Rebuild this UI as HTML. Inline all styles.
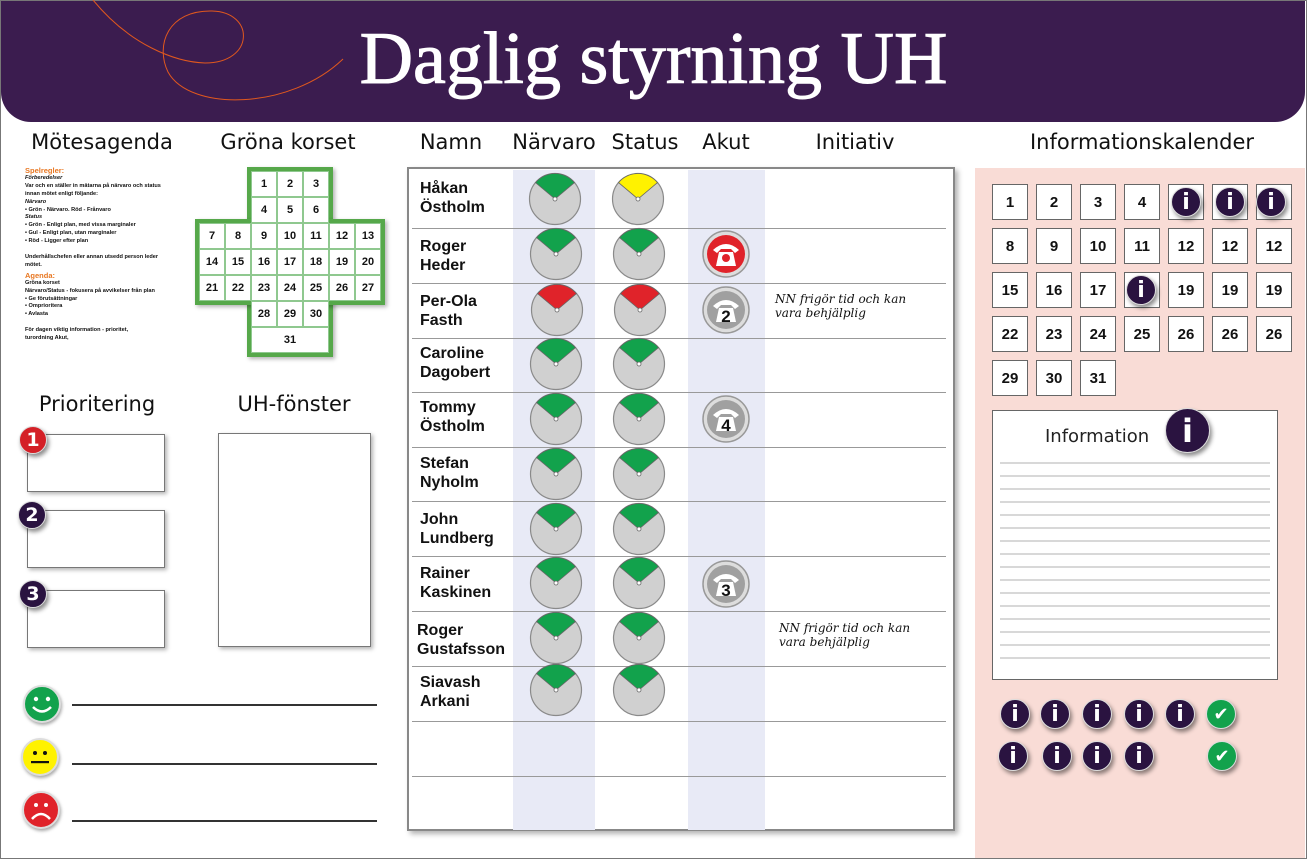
<!DOCTYPE html>
<html><head><meta charset="utf-8"><style>
*{margin:0;padding:0;box-sizing:border-box}
body{width:1307px;height:859px;position:relative;background:#fff;font-family:"Liberation Sans",sans-serif;overflow:hidden}
.a{position:absolute}
.h{position:absolute;font-family:"DejaVu Sans",sans-serif;font-size:21px;color:#111;transform:translateX(-50%);white-space:nowrap;top:130px}
.cc{position:absolute;width:26px;height:26px;background:#fff;border:1px solid #8fc88f;font-weight:bold;font-size:11px;display:flex;align-items:center;justify-content:center;color:#111}
.cal{position:absolute;width:36px;height:36px;background:#fff;border:1.5px solid #666;font-weight:bold;font-size:15px;display:flex;align-items:center;justify-content:center;color:#111}
.info{position:absolute;border-radius:50%;background:#2a1340;border:1.5px solid #ddd;box-shadow:2px 3px 4px rgba(0,0,0,.45);color:#fff;font-weight:bold;display:flex;align-items:center;justify-content:center;font-family:"DejaVu Sans",sans-serif}
.nm{position:absolute;left:420px;font-weight:bold;font-size:16px;line-height:19px;color:#111}
.rl{position:absolute;left:412px;width:534px;height:1px;background:#999}
.ag{position:absolute;left:25px;top:167px;font-size:5.6px;line-height:7.9px;font-weight:bold;color:#111;width:165px}
.ag .o{color:#e87722;font-size:7.5px}
.pb{position:absolute;background:#fff;border:1.5px solid #777;box-shadow:2px 2px 4px rgba(0,0,0,.3)}
.sm{position:absolute;width:38px;height:38px;border-radius:50%;border:2px solid #ddd;box-shadow:1px 2px 3px rgba(0,0,0,.35)}
.ln{position:absolute;left:72px;width:305px;height:1.5px;background:#333}
.cur{position:absolute;font-family:"DejaVu Serif",serif;font-style:italic;font-size:12px;line-height:14px;color:#111}
</style></head><body>
<div class="a" style="left:0;top:0;width:1307px;height:859px;border:1.5px solid #777"></div>
<div class="a" style="left:1px;top:1px;width:1304px;height:121px;background:#3b1c4f;border-radius:0 0 30px 30px"></div>
<svg class="a" style="left:0;top:0" width="400" height="125"><path d="M93,0 C130,45 175,62 205,63 C255,63 255,12 212,11 C168,10 155,45 168,72 C190,112 290,110 343,59" fill="none" stroke="#e0581e" stroke-width="1"/></svg>
<div class="a" style="left:0;width:1307px;top:14px;text-align:center;color:#fff;font-family:'Liberation Serif',serif;font-size:74px;line-height:90px;-webkit-text-stroke:1px #fff">Daglig styrning UH</div>

<div class="h" style="left:102px">Mötesagenda</div>
<div class="h" style="left:288px">Gröna korset</div>
<div class="h" style="left:451px">Namn</div>
<div class="h" style="left:554px">Närvaro</div>
<div class="h" style="left:645px">Status</div>
<div class="h" style="left:726px">Akut</div>
<div class="h" style="left:855px">Initiativ</div>
<div class="h" style="left:1142px">Informationskalender</div>

<div class="ag"><div class="o">Spelregler:</div><i>Förberedelser</i><br>Var och en ställer in mätarna på närvaro och status<br>innan mötet enligt följande:<br><i>Närvaro</i><br>• Grön - Närvaro. Röd - Frånvaro<br><i>Status</i><br>• Grön - Enligt plan, med vissa marginaler<br>• Gul - Enligt plan, utan marginaler<br>• Röd - Ligger efter plan<br><br>Underhållschefen eller annan utsedd person leder<br>mötet.<br><div class="o" style="margin-top:2px">Agenda:</div>Gröna korset<br>Närvaro/Status - fokusera på avvikelser från plan<br>• Ge förutsättningar<br>• Omprioritera<br>• Avlasta<br><br>För dagen viktig information - prioritet,<br>turordning Akut,</div>

<div class="a" style="left:247px;top:167px;width:86px;height:190px;background:#56a84a;box-shadow:2px 2px 4px rgba(0,0,0,.3)"></div>
<div class="a" style="left:195px;top:219px;width:190px;height:86px;background:#56a84a;box-shadow:2px 2px 4px rgba(0,0,0,.3)"></div>
<div class="cc" style="left:251px;top:171px">1</div><div class="cc" style="left:277px;top:171px">2</div><div class="cc" style="left:303px;top:171px">3</div>
<div class="cc" style="left:251px;top:197px">4</div><div class="cc" style="left:277px;top:197px">5</div><div class="cc" style="left:303px;top:197px">6</div>
<div class="cc" style="left:199px;top:223px">7</div><div class="cc" style="left:225px;top:223px">8</div><div class="cc" style="left:251px;top:223px">9</div><div class="cc" style="left:277px;top:223px">10</div><div class="cc" style="left:303px;top:223px">11</div><div class="cc" style="left:329px;top:223px">12</div><div class="cc" style="left:355px;top:223px">13</div>
<div class="cc" style="left:199px;top:249px">14</div><div class="cc" style="left:225px;top:249px">15</div><div class="cc" style="left:251px;top:249px">16</div><div class="cc" style="left:277px;top:249px">17</div><div class="cc" style="left:303px;top:249px">18</div><div class="cc" style="left:329px;top:249px">19</div><div class="cc" style="left:355px;top:249px">20</div>
<div class="cc" style="left:199px;top:275px">21</div><div class="cc" style="left:225px;top:275px">22</div><div class="cc" style="left:251px;top:275px">23</div><div class="cc" style="left:277px;top:275px">24</div><div class="cc" style="left:303px;top:275px">25</div><div class="cc" style="left:329px;top:275px">26</div><div class="cc" style="left:355px;top:275px">27</div>
<div class="cc" style="left:251px;top:301px">28</div><div class="cc" style="left:277px;top:301px">29</div><div class="cc" style="left:303px;top:301px">30</div>
<div class="cc" style="left:251px;top:327px;width:78px">31</div>

<div class="h" style="left:97px;top:392px">Prioritering</div>
<div class="h" style="left:294px;top:392px">UH-fönster</div>
<div class="pb" style="left:27px;top:434px;width:138px;height:58px"></div>
<div class="pb" style="left:27px;top:510px;width:138px;height:58px"></div>
<div class="pb" style="left:27px;top:590px;width:138px;height:58px"></div>
<div class="pb" style="left:218px;top:433px;width:153px;height:214px"></div>
<div class="info" style="left:19px;top:426px;width:28px;height:28px;background:#d42027;font-size:19px">1</div>
<div class="info" style="left:18px;top:501px;width:28px;height:28px;font-size:19px">2</div>
<div class="info" style="left:19px;top:580px;width:28px;height:28px;font-size:19px">3</div>

<div class="sm" style="left:23px;top:685px;background:#12a24c"></div>
<svg class="a" style="left:23px;top:685px" width="38" height="38"><circle cx="13" cy="14" r="2.2" fill="#fff"/><circle cx="25" cy="14" r="2.2" fill="#fff"/><path d="M10,22 Q19,31 28,22" stroke="#fff" stroke-width="2.5" fill="none"/></svg>
<div class="sm" style="left:21px;top:738px;background:#fff200"></div>
<svg class="a" style="left:21px;top:738px" width="38" height="38"><circle cx="14" cy="15" r="2" fill="#111"/><circle cx="24" cy="15" r="2" fill="#111"/><rect x="10" y="23" width="18" height="2.2" fill="#111"/></svg>
<div class="sm" style="left:22px;top:791px;background:#e0232a"></div>
<svg class="a" style="left:22px;top:791px" width="38" height="38"><circle cx="14" cy="14" r="2" fill="#fff"/><circle cx="24" cy="14" r="2" fill="#fff"/><path d="M10,28 Q19,18 28,28" stroke="#fff" stroke-width="2.5" fill="none"/></svg>
<div class="ln" style="top:704px"></div><div class="ln" style="top:763px"></div><div class="ln" style="top:820px"></div>

<div class="a" style="left:407px;top:167px;width:548px;height:664px;background:#fff;border:2px solid #888;box-shadow:3px 3px 5px rgba(0,0,0,.3)"></div>
<div class="a" style="left:513px;top:170px;width:82px;height:660px;background:#e8eaf6"></div>
<div class="a" style="left:688px;top:170px;width:77px;height:660px;background:#e8eaf6"></div>
<div class="rl" style="top:228px"></div><div class="rl" style="top:283px"></div><div class="rl" style="top:338px"></div><div class="rl" style="top:392px"></div><div class="rl" style="top:447px"></div><div class="rl" style="top:501px"></div><div class="rl" style="top:556px"></div><div class="rl" style="top:611px"></div><div class="rl" style="top:666px"></div><div class="rl" style="top:721px"></div><div class="rl" style="top:776px"></div>

<div class="nm" style="top:179px">Håkan<br>Östholm</div>
<div class="nm" style="top:237px">Roger<br>Heder</div>
<div class="nm" style="top:292px">Per-Ola<br>Fasth</div>
<div class="nm" style="top:344px">Caroline<br>Dagobert</div>
<div class="nm" style="top:398px">Tommy<br>Östholm</div>
<div class="nm" style="top:454px">Stefan<br>Nyholm</div>
<div class="nm" style="top:510px">John<br>Lundberg</div>
<div class="nm" style="top:564px">Rainer<br>Kaskinen</div>
<div class="nm" style="top:621px;left:417px">Roger<br>Gustafsson</div>
<div class="nm" style="top:673px">Siavash<br>Arkani</div>

<svg class="a" style="left:0;top:0" width="1307" height="859">
<defs><g id="gb"><circle r="25.5" fill="#d0d0d0" stroke="#8a8a8a" stroke-width="1.2"/></g></defs>
<g stroke="#666" stroke-width="0.8">
<g transform="translate(555,199)"><use href="#gb"/><path d="M0,0 L-19.5,-16.4 A25.5,25.5 0 0 1 19.5,-16.4 Z" fill="#12a24c"/><circle r="2" fill="#fff"/></g>
<g transform="translate(638,199)"><use href="#gb"/><path d="M0,0 L-19.5,-16.4 A25.5,25.5 0 0 1 19.5,-16.4 Z" fill="#fff200"/><circle r="2" fill="#fff"/></g>
<g transform="translate(556,254)"><use href="#gb"/><path d="M0,0 L-19.5,-16.4 A25.5,25.5 0 0 1 19.5,-16.4 Z" fill="#12a24c"/><circle r="2" fill="#fff"/></g>
<g transform="translate(639,254)"><use href="#gb"/><path d="M0,0 L-19.5,-16.4 A25.5,25.5 0 0 1 19.5,-16.4 Z" fill="#12a24c"/><circle r="2" fill="#fff"/></g>
<g transform="translate(557,310)"><use href="#gb"/><path d="M0,0 L-19.5,-16.4 A25.5,25.5 0 0 1 19.5,-16.4 Z" fill="#e0232a"/><circle r="2" fill="#fff"/></g>
<g transform="translate(640,310)"><use href="#gb"/><path d="M0,0 L-19.5,-16.4 A25.5,25.5 0 0 1 19.5,-16.4 Z" fill="#e0232a"/><circle r="2" fill="#fff"/></g>
<g transform="translate(556,364)"><use href="#gb"/><path d="M0,0 L-19.5,-16.4 A25.5,25.5 0 0 1 19.5,-16.4 Z" fill="#12a24c"/><circle r="2" fill="#fff"/></g>
<g transform="translate(639,364)"><use href="#gb"/><path d="M0,0 L-19.5,-16.4 A25.5,25.5 0 0 1 19.5,-16.4 Z" fill="#12a24c"/><circle r="2" fill="#fff"/></g>
<g transform="translate(556,419)"><use href="#gb"/><path d="M0,0 L-19.5,-16.4 A25.5,25.5 0 0 1 19.5,-16.4 Z" fill="#12a24c"/><circle r="2" fill="#fff"/></g>
<g transform="translate(639,419)"><use href="#gb"/><path d="M0,0 L-19.5,-16.4 A25.5,25.5 0 0 1 19.5,-16.4 Z" fill="#12a24c"/><circle r="2" fill="#fff"/></g>
<g transform="translate(556,474)"><use href="#gb"/><path d="M0,0 L-19.5,-16.4 A25.5,25.5 0 0 1 19.5,-16.4 Z" fill="#12a24c"/><circle r="2" fill="#fff"/></g>
<g transform="translate(639,474)"><use href="#gb"/><path d="M0,0 L-19.5,-16.4 A25.5,25.5 0 0 1 19.5,-16.4 Z" fill="#12a24c"/><circle r="2" fill="#fff"/></g>
<g transform="translate(556,529)"><use href="#gb"/><path d="M0,0 L-19.5,-16.4 A25.5,25.5 0 0 1 19.5,-16.4 Z" fill="#12a24c"/><circle r="2" fill="#fff"/></g>
<g transform="translate(639,529)"><use href="#gb"/><path d="M0,0 L-19.5,-16.4 A25.5,25.5 0 0 1 19.5,-16.4 Z" fill="#12a24c"/><circle r="2" fill="#fff"/></g>
<g transform="translate(556,583)"><use href="#gb"/><path d="M0,0 L-19.5,-16.4 A25.5,25.5 0 0 1 19.5,-16.4 Z" fill="#12a24c"/><circle r="2" fill="#fff"/></g>
<g transform="translate(639,583)"><use href="#gb"/><path d="M0,0 L-19.5,-16.4 A25.5,25.5 0 0 1 19.5,-16.4 Z" fill="#12a24c"/><circle r="2" fill="#fff"/></g>
<g transform="translate(556,638)"><use href="#gb"/><path d="M0,0 L-19.5,-16.4 A25.5,25.5 0 0 1 19.5,-16.4 Z" fill="#12a24c"/><circle r="2" fill="#fff"/></g>
<g transform="translate(639,638)"><use href="#gb"/><path d="M0,0 L-19.5,-16.4 A25.5,25.5 0 0 1 19.5,-16.4 Z" fill="#12a24c"/><circle r="2" fill="#fff"/></g>
<g transform="translate(556,690)"><use href="#gb"/><path d="M0,0 L-19.5,-16.4 A25.5,25.5 0 0 1 19.5,-16.4 Z" fill="#12a24c"/><circle r="2" fill="#fff"/></g>
<g transform="translate(639,690)"><use href="#gb"/><path d="M0,0 L-19.5,-16.4 A25.5,25.5 0 0 1 19.5,-16.4 Z" fill="#12a24c"/><circle r="2" fill="#fff"/></g>
</g>
<g transform="translate(726,254)"><circle r="23" fill="#ddd" stroke="#999" stroke-width="1.5"/><circle r="19" fill="#e0232a"/><path d="M-13,-4 Q0,-16 13,-4 L9,-1 L5,-5 L-5,-5 L-9,-1 Z" fill="#fff"/><path d="M-10,12 L-7,-2 L7,-2 L10,12 Z" fill="#fff"/><circle cy="4" r="4" fill="#e0232a"/></g>
<g transform="translate(726,310)"><circle r="23" fill="#ddd" stroke="#999" stroke-width="1.5"/><circle r="19" fill="#a0a0a0"/><path d="M-13,-4 Q0,-16 13,-4 L9,-1 L5,-5 L-5,-5 L-9,-1 Z" fill="#fff"/><path d="M-10,12 L-7,-2 L7,-2 L10,12 Z" fill="#fff"/><text y="12" text-anchor="middle" font-family="Liberation Sans" font-weight="bold" font-size="17" fill="#111">2</text></g>
<g transform="translate(726,419)"><circle r="23" fill="#ddd" stroke="#999" stroke-width="1.5"/><circle r="19" fill="#a0a0a0"/><path d="M-13,-4 Q0,-16 13,-4 L9,-1 L5,-5 L-5,-5 L-9,-1 Z" fill="#fff"/><path d="M-10,12 L-7,-2 L7,-2 L10,12 Z" fill="#fff"/><text y="12" text-anchor="middle" font-family="Liberation Sans" font-weight="bold" font-size="17" fill="#111">4</text></g>
<g transform="translate(726,584)"><circle r="23" fill="#ddd" stroke="#999" stroke-width="1.5"/><circle r="19" fill="#a0a0a0"/><path d="M-13,-4 Q0,-16 13,-4 L9,-1 L5,-5 L-5,-5 L-9,-1 Z" fill="#fff"/><path d="M-10,12 L-7,-2 L7,-2 L10,12 Z" fill="#fff"/><text y="12" text-anchor="middle" font-family="Liberation Sans" font-weight="bold" font-size="17" fill="#111">3</text></g>
</svg>
<div class="cur" style="left:775px;top:292px">NN frigör tid och kan<br>vara behjälplig</div>
<div class="cur" style="left:779px;top:621px">NN frigör tid och kan<br>vara behjälplig</div>

<div class="a" style="left:975px;top:168px;width:330px;height:690px;background:#f9dcd6"></div>
<div class="cal" style="left:992px;top:184px">1</div><div class="cal" style="left:1036px;top:184px">2</div><div class="cal" style="left:1080px;top:184px">3</div><div class="cal" style="left:1124px;top:184px">4</div><div class="cal" style="left:1168px;top:184px"></div><div class="cal" style="left:1212px;top:184px"></div><div class="cal" style="left:1256px;top:184px"></div>
<div class="cal" style="left:992px;top:228px">8</div><div class="cal" style="left:1036px;top:228px">9</div><div class="cal" style="left:1080px;top:228px">10</div><div class="cal" style="left:1124px;top:228px">11</div><div class="cal" style="left:1168px;top:228px">12</div><div class="cal" style="left:1212px;top:228px">12</div><div class="cal" style="left:1256px;top:228px">12</div>
<div class="cal" style="left:992px;top:272px">15</div><div class="cal" style="left:1036px;top:272px">16</div><div class="cal" style="left:1080px;top:272px">17</div><div class="cal" style="left:1124px;top:272px"></div><div class="cal" style="left:1168px;top:272px">19</div><div class="cal" style="left:1212px;top:272px">19</div><div class="cal" style="left:1256px;top:272px">19</div>
<div class="cal" style="left:992px;top:316px">22</div><div class="cal" style="left:1036px;top:316px">23</div><div class="cal" style="left:1080px;top:316px">24</div><div class="cal" style="left:1124px;top:316px">25</div><div class="cal" style="left:1168px;top:316px">26</div><div class="cal" style="left:1212px;top:316px">26</div><div class="cal" style="left:1256px;top:316px">26</div>
<div class="cal" style="left:992px;top:360px">29</div><div class="cal" style="left:1036px;top:360px">30</div><div class="cal" style="left:1080px;top:360px">31</div>
<div class="info" style="left:1171px;top:187px;width:30px;height:30px;font-size:22px">i</div>
<div class="info" style="left:1215px;top:187px;width:30px;height:30px;font-size:22px">i</div>
<div class="info" style="left:1256px;top:187px;width:30px;height:30px;font-size:22px">i</div>
<div class="info" style="left:1126px;top:275px;width:30px;height:30px;font-size:22px">i</div>

<div class="a" style="left:992px;top:410px;width:286px;height:270px;background:#fff;border:1.5px solid #666"></div>
<div class="a" style="left:1045px;top:426px;font-family:'DejaVu Sans',sans-serif;font-size:18px;color:#222">Information</div>
<div class="info" style="left:1165px;top:408px;width:45px;height:45px;font-size:32px">i</div>
<svg class="a" style="left:1000px;top:455px" width="272" height="215"><g stroke="#999" stroke-width="0.8">
<line x1="0" x2="270" y1="8" y2="8"/><line x1="0" x2="270" y1="21" y2="21"/><line x1="0" x2="270" y1="34" y2="34"/><line x1="0" x2="270" y1="47" y2="47"/><line x1="0" x2="270" y1="60" y2="60"/><line x1="0" x2="270" y1="73" y2="73"/><line x1="0" x2="270" y1="86" y2="86"/><line x1="0" x2="270" y1="99" y2="99"/><line x1="0" x2="270" y1="112" y2="112"/><line x1="0" x2="270" y1="125" y2="125"/><line x1="0" x2="270" y1="138" y2="138"/><line x1="0" x2="270" y1="151" y2="151"/><line x1="0" x2="270" y1="164" y2="164"/><line x1="0" x2="270" y1="177" y2="177"/><line x1="0" x2="270" y1="190" y2="190"/><line x1="0" x2="270" y1="203" y2="203"/></g></svg>

<div class="info" style="left:1000px;top:699px;width:30px;height:30px;font-size:22px">i</div>
<div class="info" style="left:1040px;top:699px;width:30px;height:30px;font-size:22px">i</div>
<div class="info" style="left:1082px;top:699px;width:30px;height:30px;font-size:22px">i</div>
<div class="info" style="left:1124px;top:699px;width:30px;height:30px;font-size:22px">i</div>
<div class="info" style="left:1165px;top:699px;width:30px;height:30px;font-size:22px">i</div>
<div class="info" style="left:1206px;top:699px;width:30px;height:30px;background:#12a24c;font-size:18px">✔</div>
<div class="info" style="left:998px;top:741px;width:30px;height:30px;font-size:22px">i</div>
<div class="info" style="left:1042px;top:741px;width:30px;height:30px;font-size:22px">i</div>
<div class="info" style="left:1082px;top:741px;width:30px;height:30px;font-size:22px">i</div>
<div class="info" style="left:1124px;top:741px;width:30px;height:30px;font-size:22px">i</div>
<div class="info" style="left:1207px;top:741px;width:30px;height:30px;background:#12a24c;font-size:18px">✔</div>
</body></html>
